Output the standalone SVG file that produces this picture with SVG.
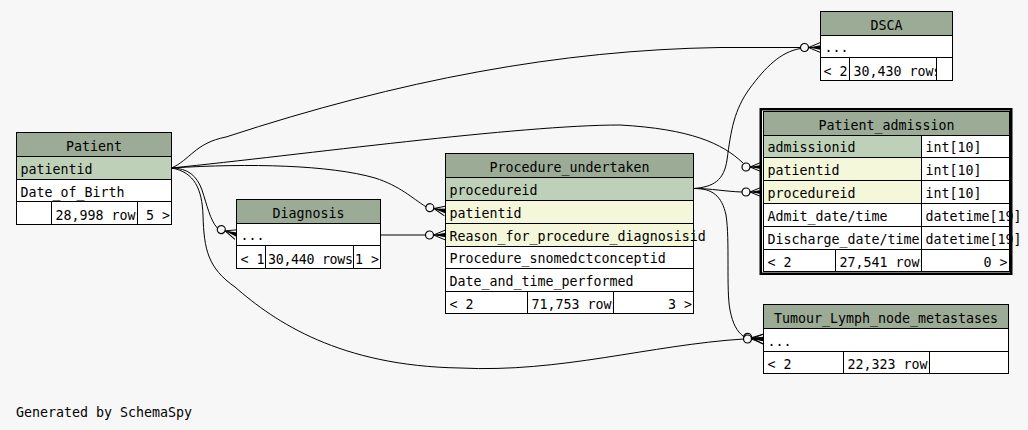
<svg xmlns="http://www.w3.org/2000/svg" xmlns:xlink="http://www.w3.org/1999/xlink" width="1028" height="430" viewBox="0 0 1028 430">
<style>
.t{font-family:"DejaVu Sans Mono","Liberation Mono",monospace;font-size:13.3px;fill:#000}
.c{text-anchor:middle}
.e{text-anchor:end}
.b{fill:none;stroke:#000;stroke-width:1}
.hd{fill:#9bab96}
.pk{fill:#bed1b8}
.fk{fill:#f4f7da}
.w{fill:#fff}
.edge{fill:none;stroke:#000;stroke-width:1}
</style>
<defs>
<g id="crow">
<path d="M0,-5 L-12,0 L0,5 M-12,0 L0,0" fill="none" stroke="#000" stroke-width="1"/>
<path d="M-12,0 L0,-2.2 L0,2.2 Z" fill="#000"/>
<circle cx="-16" cy="0" r="4" fill="#f7f7f7" stroke="#000" stroke-width="1.2"/>
</g>
<clipPath id="cpPat"><rect x="51.5" y="201.5" width="86" height="23"/></clipPath>
<clipPath id="cpDia"><rect x="265.5" y="245.5" width="88" height="23"/></clipPath>
<clipPath id="cpProc"><rect x="527.5" y="291.5" width="86" height="22"/></clipPath>
<clipPath id="cpAdm"><rect x="835.5" y="249.5" width="86" height="22"/></clipPath>
<clipPath id="cpDsca"><rect x="849.5" y="57.5" width="87" height="23"/></clipPath>
<clipPath id="cpTum"><rect x="843.5" y="351.5" width="86" height="22"/></clipPath>
</defs>
<rect width="1028" height="430" fill="#f7f7f7"/>

<g id="connectors">
<path class="edge" d="M171.5,168 C190,160 195,143 226,137 C400,80 560,50 720,47.5 L800.5,47.5"/>
<path class="edge" d="M171.5,168 C300,155 520,125 620,125 C690,129 722,143 743,163"/>
<path class="edge" d="M171.5,168 C250,163 330,165 375,178 C400,186 412,198 426,206.8"/>
<path class="edge" d="M171.5,168 C188,168 197,176 202,190 C207,205 210,220 217.5,228.3"/>
<path class="edge" d="M171.5,168 C195,172 202,190 203,215 C204,250 208,268 235,287 C275,322 340,366 460,368 C560,373 650,345 743.5,339"/>
<path class="edge" d="M380.5,235 L425.5,235"/>
<path class="edge" d="M693.5,188.5 C712,188.5 725,191.5 742,192"/>
<path class="edge" d="M693.5,188.5 C714,187 724,180 727,160 C731,130 734,110 750,88 C765,68 780,52 800.5,48.5"/>
<path class="edge" d="M693.5,188.5 C712,188 722,196 726,215 C730,240 726,290 730,310 C733,325 737,331 743.5,336.5"/>
<use xlink:href="#crow" href="#crow" transform="translate(820.5,47.5)"/>
<use xlink:href="#crow" href="#crow" transform="translate(762,167)"/>
<use xlink:href="#crow" href="#crow" transform="translate(762,192)"/>
<use xlink:href="#crow" href="#crow" transform="translate(445.5,211) rotate(12)"/>
<use xlink:href="#crow" href="#crow" transform="translate(445.5,235)"/>
<use xlink:href="#crow" href="#crow" transform="translate(236.5,234.5) rotate(18)"/>
<use xlink:href="#crow" href="#crow" transform="translate(763.5,339) rotate(6)"/>
<use xlink:href="#crow" href="#crow" transform="translate(763.5,339)"/>
</g>

<g id="Patient">
<rect class="hd" x="16.5" y="132.5" width="155" height="24"/>
<rect class="pk" x="16.5" y="156.5" width="155" height="23"/>
<rect class="w" x="16.5" y="179.5" width="155" height="22"/>
<rect class="w" x="16.5" y="201.5" width="155" height="23"/>
<text class="t c" x="94" y="150.5">Patient</text>
<text class="t" x="20.5" y="174">patientid</text>
<text class="t" x="20.5" y="196.5">Date_of_Birth</text>
<text class="t" x="55.5" y="220" clip-path="url(#cpPat)">28,998 rows</text>
<text class="t e" x="170" y="220">5 &gt;</text>
<rect class="b" x="16.5" y="132.5" width="155" height="92"/>
<path class="b" d="M16.5,156.5H171.5M16.5,179.5H171.5M16.5,201.5H171.5M51.5,201.5V224.5M137.5,201.5V224.5"/>
</g>

<g id="Diagnosis">
<rect class="hd" x="236.5" y="199.5" width="144" height="24"/>
<rect class="w" x="236.5" y="223.5" width="144" height="22"/>
<rect class="w" x="236.5" y="245.5" width="144" height="23"/>
<text class="t c" x="308.5" y="217.5">Diagnosis</text>
<text class="t" x="240.5" y="240">...</text>
<text class="t" x="240.5" y="264">&lt; 1</text>
<text class="t" x="268" y="264" textLength="85" lengthAdjust="spacing" clip-path="url(#cpDia)">30,440 rows</text>
<text class="t e" x="379" y="264">1 &gt;</text>
<rect class="b" x="236.5" y="199.5" width="144" height="69"/>
<path class="b" d="M236.5,223.5H380.5M236.5,245.5H380.5M265.5,245.5V268.5M353.5,245.5V268.5"/>
</g>

<g id="Procedure_undertaken">
<rect class="hd" x="445.5" y="153.5" width="248" height="24"/>
<rect class="pk" x="445.5" y="177.5" width="248" height="23"/>
<rect class="fk" x="445.5" y="200.5" width="248" height="23"/>
<rect class="fk" x="445.5" y="223.5" width="248" height="23"/>
<rect class="w" x="445.5" y="246.5" width="248" height="22"/>
<rect class="w" x="445.5" y="268.5" width="248" height="23"/>
<rect class="w" x="445.5" y="291.5" width="248" height="22"/>
<text class="t c" x="569.5" y="171.5">Procedure_undertaken</text>
<text class="t" x="449.5" y="195">procedureid</text>
<text class="t" x="449.5" y="218">patientid</text>
<text class="t" x="449.5" y="241">Reason_for_procedure_diagnosisid</text>
<text class="t" x="449.5" y="263">Procedure_snomedctconceptid</text>
<text class="t" x="449.5" y="286">Date_and_time_performed</text>
<text class="t" x="449.5" y="309">&lt; 2</text>
<text class="t" x="531.5" y="309" clip-path="url(#cpProc)">71,753 rows</text>
<text class="t e" x="692" y="309">3 &gt;</text>
<rect class="b" x="445.5" y="153.5" width="248" height="160"/>
<path class="b" d="M445.5,177.5H693.5M445.5,200.5H693.5M445.5,223.5H693.5M445.5,246.5H693.5M445.5,268.5H693.5M445.5,291.5H693.5M527.5,291.5V313.5M613.5,291.5V313.5"/>
</g>

<g id="Patient_admission">
<rect class="hd" x="763.5" y="111.5" width="246" height="24"/>
<rect class="pk" x="763.5" y="135.5" width="158" height="22"/>
<rect class="w" x="921.5" y="135.5" width="88" height="22"/>
<rect class="fk" x="763.5" y="157.5" width="158" height="23"/>
<rect class="w" x="921.5" y="157.5" width="88" height="23"/>
<rect class="fk" x="763.5" y="180.5" width="158" height="23"/>
<rect class="w" x="921.5" y="180.5" width="88" height="23"/>
<rect class="w" x="763.5" y="203.5" width="246" height="23"/>
<rect class="w" x="763.5" y="226.5" width="246" height="23"/>
<rect class="w" x="763.5" y="249.5" width="246" height="22"/>
<text class="t c" x="886.5" y="129.5">Patient_admission</text>
<text class="t" x="767.5" y="152">admissionid</text>
<text class="t" x="925.5" y="152">int[10]</text>
<text class="t" x="767.5" y="175">patientid</text>
<text class="t" x="925.5" y="175">int[10]</text>
<text class="t" x="767.5" y="198">procedureid</text>
<text class="t" x="925.5" y="198">int[10]</text>
<text class="t" x="767.5" y="221">Admit_date/time</text>
<text class="t" x="925.5" y="221">datetime[19]</text>
<text class="t" x="767.5" y="244">Discharge_date/time</text>
<text class="t" x="925.5" y="244">datetime[19]</text>
<text class="t" x="767.5" y="267">&lt; 2</text>
<text class="t" x="839.5" y="267" clip-path="url(#cpAdm)">27,541 rows</text>
<text class="t e" x="1007.5" y="267">0 &gt;</text>
<rect class="b" x="763.5" y="111.5" width="246" height="160"/>
<rect x="760.75" y="109.25" width="250.5" height="164.5" fill="none" stroke="#000" stroke-width="2.5"/>
<path class="b" d="M763.5,135.5H1009.5M763.5,157.5H1009.5M763.5,180.5H1009.5M763.5,203.5H1009.5M763.5,226.5H1009.5M763.5,249.5H1009.5M921.5,135.5V249.5M835.5,249.5V271.5M921.5,249.5V271.5"/>
</g>

<g id="DSCA">
<rect class="hd" x="820.5" y="11.5" width="132" height="24"/>
<rect class="w" x="820.5" y="35.5" width="132" height="22"/>
<rect class="w" x="820.5" y="57.5" width="132" height="23"/>
<text class="t c" x="886.5" y="29.5">DSCA</text>
<text class="t" x="824.5" y="52">...</text>
<text class="t" x="823.5" y="76">&lt; 2</text>
<text class="t" x="853.5" y="76" clip-path="url(#cpDsca)">30,430 rows</text>
<rect class="b" x="820.5" y="11.5" width="132" height="69"/>
<path class="b" d="M820.5,35.5H952.5M820.5,57.5H952.5M849.5,57.5V80.5M936.5,57.5V80.5"/>
</g>

<g id="Tumour_Lymph_node_metastases">
<rect class="hd" x="763.5" y="304.5" width="245" height="24"/>
<rect class="w" x="763.5" y="328.5" width="245" height="23"/>
<rect class="w" x="763.5" y="351.5" width="245" height="22"/>
<text class="t c" x="886" y="322.5">Tumour_Lymph_node_metastases</text>
<text class="t" x="767.5" y="346">...</text>
<text class="t" x="767.5" y="369">&lt; 2</text>
<text class="t" x="847.5" y="369" clip-path="url(#cpTum)">22,323 rows</text>
<rect class="b" x="763.5" y="304.5" width="245" height="69"/>
<path class="b" d="M763.5,328.5H1008.5M763.5,351.5H1008.5M843.5,351.5V373.5M929.5,351.5V373.5"/>
</g>

<text class="t" x="16" y="417">Generated by SchemaSpy</text>
</svg>
